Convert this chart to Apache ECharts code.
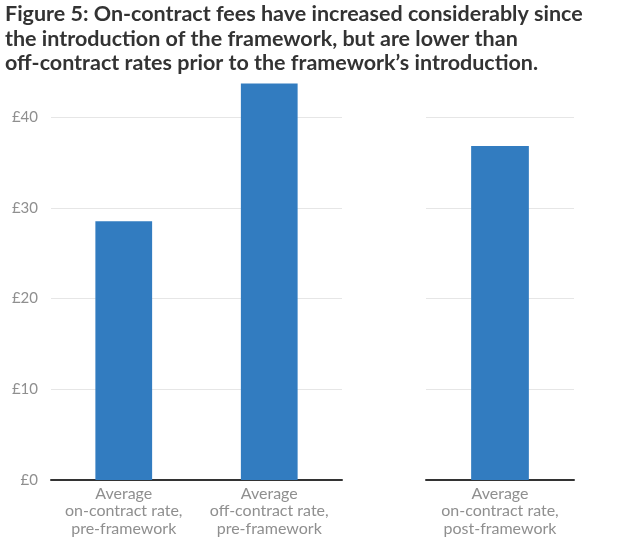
<!DOCTYPE html>
<html>
<head>
<meta charset="utf-8">
<script src="https://cdn.jsdelivr.net/npm/echarts@6/dist/echarts.min.js"></script>
<style>
  html, body { margin: 0; padding: 0; background: #fff; }
  #chart { width: 620px; height: 550px; }
</style>
</head>
<body>
<div id="chart"></div>
<script>
// categories (two panels)
const preCategories = ['Average\non-contract rate,\npre-framework', 'Average\noff-contract rate,\npre-framework']
const postCategories = ['Average\non-contract rate,\npost-framework']

// values in £
const preValues = [28.5, 43.7]
const postValues = [36.8]

const yTicks = [0, 10, 20, 30, 40]

const titleText = 'Figure 5: On-contract fees have increased considerably since\nthe introduction of the framework, but are lower than\noff-contract rates prior to the framework\u2019s introduction.'

const barColor = '#327cc0'
const labelGrey = '#8f8f8f'

const chart = echarts.init(document.getElementById('chart'))

const xAxisCommon = {
  type: 'category',
  axisTick: { show: false },
  axisLine: { lineStyle: { color: '#333', width: 2 } },
  axisLabel: {
    color: labelGrey,
    fontFamily: 'Lato',
    fontSize: 16,
    lineHeight: 17.5,
    margin: 5,
    interval: 0
  }
}

const yAxisCommon = {
  type: 'value',
  min: yTicks[0],
  max: yTicks[yTicks.length - 1],
  interval: 10,
  axisLine: { show: false },
  axisTick: { show: false },
  splitLine: { lineStyle: { color: '#e6e6e6', width: 1 } }
}

chart.setOption({
  animation: false,
  title: {
    text: titleText,
    left: 0,
    top: -3,
    textStyle: {
      fontFamily: 'Lato',
      fontWeight: 'bold',
      fontSize: 21.5,
      lineHeight: 24.5,
      color: '#333'
    }
  },
  grid: [
    { left: 51, right: 278, top: 117, bottom: 70 },
    { left: 426, right: 46, top: 117, bottom: 70 }
  ],
  xAxis: [
    { ...xAxisCommon, gridIndex: 0, data: preCategories },
    { ...xAxisCommon, gridIndex: 1, data: postCategories }
  ],
  yAxis: [
    {
      ...yAxisCommon,
      gridIndex: 0,
      axisLabel: {
        color: labelGrey,
        fontFamily: 'Lato',
        fontSize: 15,
        margin: 13,
        formatter: v => '\u00a3' + v
      }
    },
    { ...yAxisCommon, gridIndex: 1, axisLabel: { show: false } }
  ],
  series: [
    {
      type: 'bar',
      xAxisIndex: 0,
      yAxisIndex: 0,
      data: preValues,
      barWidth: '39%',
      clip: false,
      itemStyle: { color: barColor }
    },
    {
      type: 'bar',
      xAxisIndex: 1,
      yAxisIndex: 1,
      data: postValues,
      barWidth: '39%',
      clip: false,
      itemStyle: { color: barColor }
    }
  ]
})
</script>
</body>
</html>
